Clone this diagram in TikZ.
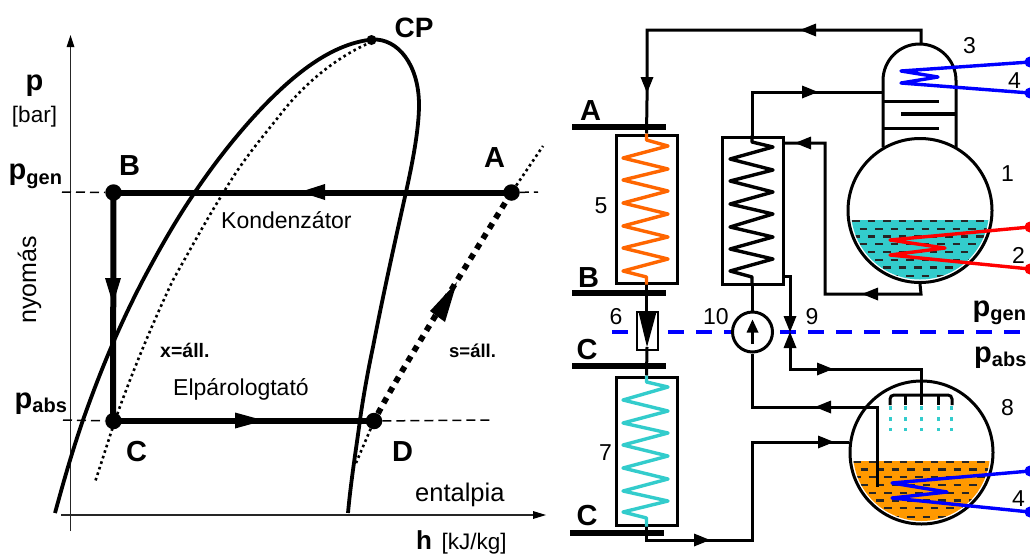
\documentclass[tikz,border=0pt]{standalone}
\usepackage{fontspec}
\setmainfont{Liberation Sans}
\usetikzlibrary{calc}
\definecolor{teal1}{HTML}{33CCCC}
\definecolor{orange1}{HTML}{FF6600}
\definecolor{orange2}{HTML}{FF9900}
\newcommand\fs[1]{\fontsize{#1}{#1}\selectfont}
\newcommand\arrR[2]{\fill (#1,#2) -- ++(-16,-6.5) -- ++(0,13) -- cycle;}
\newcommand\arrL[2]{\fill (#1,#2) -- ++(16,-6.5) -- ++(0,13) -- cycle;}
\newcommand\arrD[2]{\fill (#1,#2) -- ++(-6.5,-16) -- ++(13,0) -- cycle;}
\newcommand\liquiddashes[3]{%
  \foreach \r/\yy in {0/0,1/7.7,2/15.4,3/23,4/31,5/38.7,6/46.5,7/55}{%
    \pgfmathsetmacro\off{mod(\r,2)*7.7}%
    \foreach \k in {0,...,10}{%
      \draw[dashmark] ({#1+\off+\k*15.5},{#2+\yy}) -- ++(7.5,0);}}}
\tikzset{
  axisline/.style={line width=1.5pt,draw=black!85},
  cycleline/.style={line width=6pt},
  thindash/.style={line width=1.5pt,dash pattern=on 9pt off 5pt},
  curve/.style={line width=3.8pt},
  dotcurve/.style={line width=2.6pt,dash pattern=on 2.6pt off 3.2pt},
  thickdot/.style={line width=5.8pt,dash pattern=on 6pt off 6pt},
  statept/.style={circle,fill=black,inner sep=0pt,minimum size=16.5pt},
  bold/.style={font=\fs{29}\bfseries,inner sep=0pt,anchor=base west},
  plain/.style={font=\fs{23},inner sep=0pt,anchor=base west},
  pipe/.style={line width=3pt,line join=miter},
  busbar/.style={line width=6pt},
  hxbox/.style={draw,line width=3pt,inner sep=0pt,minimum width=61pt},
  coil/.style={line width=3.4pt,line join=round},
  vessel/.style={circle,draw,line width=3pt,inner sep=0pt},
  dashmark/.style={line width=2.3pt,draw=black!85},
  dot/.style={circle,inner sep=0pt,minimum size=11pt},
  spray/.style={line width=3pt,teal1,dash pattern=on 4pt off 7pt},
}
\begin{document}
\begin{tikzpicture}[x=1pt,y=-1pt]
\useasboundingbox (0,0) rectangle (1030,555);
\fill[white] (0,0) rectangle (1030,555);

% ---------- left: p-h diagram ----------
\coordinate (yb) at (70.5,531); \coordinate (yt) at (70.5,40);
\coordinate (xl) at (61,515); \coordinate (xr) at (540,515);
\draw[axisline] (yb) -- (yt);
\draw[axisline] (xl) -- (xr);
\fill (70.5,35) -- ++(-4,12) -- ++(8,0) -- cycle;
\fill (546,515) -- ++(-13,-4) -- ++(0,8) -- cycle;

\node[statept] (B) at (113.5,192.5) {};
\node[statept] (A) at (511.5,192.5) {};
\node[statept] (C) at (113.5,421) {};
\node[statept] (D) at (374,421) {};
\node[circle,fill=black,inner sep=0pt,minimum size=10pt] (CP) at (371.5,40) {};

\coordinate (Bl) at (62,192); \coordinate (Ar) at (538,192);
\coordinate (Cl) at (63,420); \coordinate (Dr) at (490,420);
\draw[thindash] (Bl) -- (B);
\draw[thindash] (Cl) -- (C);
\draw[thindash] (A) -- (Ar);
\draw[thindash] (D) -- (Dr);

\draw[curve] (55,513) .. controls (64,480) and (72,452) .. (83,420)
  .. controls (100,372) and (118,328) .. (143,280)
  .. controls (160,248) and (176,220) .. (195,192)
  .. controls (220,155) and (250,118) .. (280,90)
  .. controls (310,62) and (340,43) .. (372,39.5)
  .. controls (398,38) and (419,65) .. (419,105)
  .. controls (419,130) and (412,165) .. (406,192)
  .. controls (396,237) and (383,295) .. (373,347)
  .. controls (367,375) and (362,405) .. (360,420)
  .. controls (356,450) and (351,480) .. (348,513);
\draw[dotcurve] (371.5,42) .. controls (340,55) and (305,82) .. (280,115)
  .. controls (260,140) and (243,160) .. (225,190)
  .. controls (205,222) and (190,250) .. (173,280)
  .. controls (155,318) and (135,365) .. (118,412)
  .. controls (110,435) and (103,458) .. (95,482);
\coordinate (Aend) at (543,146); \coordinate (Dend) at (356,463);
\draw[dotcurve] (A) -- (Aend);
\draw[dotcurve] (D) -- (Dend);

\draw[cycleline] (A.center) -- (B.center);
\draw[cycleline] (B.center) -- (113,420);
\draw[cycleline] (C.center) -- (D.center);
\draw[thickdot] (D) .. controls (400,372) and (450,292) .. (A);
\fill (300,192) -- ++(25,-8) -- ++(0,16) -- cycle;
\fill (113,304) -- ++(-8,-26) -- ++(16,0) -- cycle;
\fill (264,420.5) -- ++(-29,-8) -- ++(0,16) -- cycle;
\fill (457,282) -- (430,311) -- (445,322) -- cycle;

\node[bold,font=\fs{28}\bfseries] (lCP) at (394.5,37) {CP};
\node[bold] (lA) at (484,167) {A};
\node[bold] (lB) at (119,175) {B};
\node[bold] (lC) at (126,461) {C};
\node[bold] (lD) at (392,461) {D};
\node[bold] (lp) at (25.5,90) {p};
\node[font=\fs{22.5},inner sep=0pt,anchor=base] (lbar) at (34.5,122) {[bar]};
\node[bold] (lpgen) at (8.5,179.5) {p\raisebox{-4.5pt}{\fs{20}gen}};
\node[bold] (lpabs) at (14.5,408) {p\raisebox{-4pt}{\fs{20}abs}};
\node[font=\fs{25},inner sep=0pt,rotate=90,anchor=base] (lny) at (36,280) {nyomás};
\node[plain] (lk) at (221,228) {Kondenzátor};
\node[plain] (le) at (173,395) {Elpárologtató};
\node[font=\fs{19.5}\bfseries,inner sep=0pt,anchor=base west] (lx) at (160,357) {x=áll.};
\node[font=\fs{18.5}\bfseries,inner sep=0pt,anchor=base west] (ls) at (449,357) {s=áll.};
\node[font=\fs{25.5},inner sep=0pt,anchor=base west] (lent) at (415,501) {entalpia};
\node[inner sep=0pt,anchor=base west,font=\fs{26}\bfseries] (lh) at (416,549.5) {h};
\node[inner sep=0pt,anchor=base west,font=\fs{22.5}] (lkj) at (441.5,549.5) {[kJ/kg]};

% ---------- right: scheme ----------
\coordinate (d1) at (612,332); \coordinate (d2) at (1020,332);
\draw[blue,line width=4pt,dash pattern=on 16pt off 12pt] (d1) -- (d2);

% liquids
\begin{scope}
\clip (920,210.5) circle[radius=69];
\fill[teal1] (840,219.5) rectangle (1000,290);
\clip (840,219.5) rectangle (1000,290);
\liquiddashes{852}{221}{}
\end{scope}
\begin{scope}
\clip (921.5,452.5) circle[radius=68.5];
\fill[orange2] (840,461) rectangle (1000,530);
\clip (840,461) rectangle (1000,530);
\liquiddashes{853}{461.7}{}
\end{scope}

% units
\node[hxbox,minimum height=148pt] (hxA) at (646.5,209) {};
\node[hxbox,minimum height=148pt] (hxC) at (646.5,451) {};
\node[hxbox,minimum height=147pt] (hxM) at (752.5,210.5) {};
\node[vessel,minimum size=144pt] (gen) at (920,210.5) {};
\node[vessel,minimum size=143pt] (abs) at (921.5,452.5) {};

% bus bars
\coordinate (Al) at (572,127); \coordinate (Ar2) at (666,127);
\coordinate (Bl2) at (572,293); \coordinate (Br) at (666,293);
\coordinate (Cl2) at (572,366); \coordinate (Cr) at (666,366);
\coordinate (Dl2) at (570,533); \coordinate (Dr2) at (664,533);

% tower
\coordinate (tl) at (883,147); \coordinate (tr) at (956,147);
\coordinate (ttop) at (919.5,44);
\draw[pipe] (tl) -- (883,80.5) .. controls (883,60.3) and (899.3,44) .. (ttop) .. controls (939.7,44) and (956,60.3) .. (956,80.5) -- (tr);
\draw[pipe] (883,101) -- (939,101);
\draw[line width=3.4pt] (901,114) -- (956,114);
\draw[pipe] (883,128) -- (939,128);

% pipes
\draw[pipe] (921,44) -- (921,30) -- (647,30) -- (647,100) -- (hxA.north);
\arrL{800}{30}
\arrD{647}{93}
\draw[pipe] (hxA.south) -- (646.5,312);
\node[draw,fill=white,line width=2.4pt,inner sep=0pt,minimum width=21pt,minimum height=38pt] (v6) at (647.5,331) {};
\fill (638.5,312) -- (656.5,312) -- (647,347) -- cycle;
\draw[pipe] (646.5,312) -- (646.5,318);
\draw[pipe] (647,347) -- (hxC.north);
\draw[pipe] (hxC.south) -- (646.5,540) -- (752,540) -- (752,442) -- (abs.west |- 0,442);
\arrR{710}{540}
\arrR{834}{442}

\draw[pipe] (752,137) -- (752,92) -- (883,92);
\arrR{818}{92}
\node[vessel,fill=white,minimum size=40pt] (pump) at (752.5,332) {};
\draw[pipe] (hxM.south) -- (pump.north);
\draw[pipe] (pump.south) -- (752.5,407) -- (877,407) -- (877,487);
\arrL{815}{407}
\draw[pipe] (752.5,344) -- (752.5,330);
\fill (752.5,319.5) -- ++(-6,13) -- ++(12,0) -- cycle;

\draw[pipe] (gen.south) -- (921,294) -- (825,294) -- (825,143) -- (783,143);
\arrL{862}{294}
\arrL{795}{143}

\draw[pipe] (783,276) -- (790,276) -- (790,316);
\fill (790,332) -- ++(-6.5,-16) -- ++(13,0) -- cycle;
\fill (790,332) -- ++(-6.5,16) -- ++(13,0) -- cycle;
\draw[pipe] (790,348) -- (790,369) -- (921,369) -- (921,405);
\arrR{833}{369}

% spray
\draw[pipe,rounded corners=4pt] (890,405) -- (890,395) -- (952,395) -- (952,405);
\draw[pipe] (905,395) -- (905,405);
\draw[pipe] (938,395) -- (938,405);
\foreach \sx in {890,905,921,938,951}{\draw[spray] (\sx,406) -- (\sx,431);}

% bus bars on top
\draw[busbar] (Al) -- (Ar2);
\draw[busbar] (Bl2) -- (Br);
\draw[busbar] (Cl2) -- (Cr);
\draw[busbar] (Dl2) -- (Dr2);

% coils
\draw[coil,orange1] (hxA.north) -- (646.5,140) -- (668,146) -- (623,158) -- (668,169) -- (623,180) -- (668,191) -- (623,203) -- (668,214) -- (623,226) -- (668,237) -- (623,248) -- (668,259) -- (623,271) -- (646.5,277) -- (hxA.south);
\draw[coil,teal1] (hxC.north) -- (646.5,382) -- (668,387) -- (623,400) -- (668,411) -- (623,423) -- (668,433) -- (623,445) -- (668,456) -- (623,468) -- (668,479) -- (623,491) -- (668,501) -- (623,512) -- (646.5,518) -- (hxC.south);
\draw[coil] (hxM.north -| 752,0) -- (752,142) -- (773,147) -- (730,159) -- (773,170) -- (730,181) -- (773,192) -- (730,204) -- (773,214) -- (730,227) -- (773,237) -- (730,249) -- (773,259) -- (730,271) -- (752,277) -- (752,284);

\node[dot,fill=blue] (b1) at (1030,62) {};
\node[dot,fill=blue] (b2) at (1030,93) {};
\node[dot,fill=red] (r1) at (1030,227) {};
\node[dot,fill=red] (r2) at (1030,269) {};
\node[dot,fill=blue] (b3) at (1030,471) {};
\node[dot,fill=blue] (b4) at (1030,512) {};
\draw[coil,blue] (b1.center) -- (901,71) -- (938,77) -- (901,83) -- (b2.center);
\draw[coil,red] (r1.center) -- (890,240) -- (945,248) -- (890,255) -- (r2.center);
\draw[coil,blue] (b3.center) -- (892,483) -- (947,492) -- (892,498) -- (b4.center);

% labels
\node[plain] (n3) at (963,53) {3};
\node[plain] (n4) at (1008,88) {4};
\node[plain] (n1) at (1001,181) {1};
\node[plain] (n2) at (1012,263) {2};
\node[plain] (n8) at (1001,415) {8};
\node[plain] (n4b) at (1012,506) {4};
\node[plain] (n5) at (594.5,213) {5};
\node[plain] (n7) at (599,460) {7};
\node[plain] (n6) at (609.5,324) {6};
\node[plain] (n10) at (703,324) {10};
\node[plain] (n9) at (805.5,324) {9};
\node[bold] (rA) at (580,120) {A};
\node[bold] (rB) at (578,287) {B};
\node[bold] (rC) at (576.5,359) {C};
\node[bold] (rC2) at (576.5,525) {C};
\node[bold] (rpg) at (972.5,316) {p\raisebox{-4.5pt}{\fs{20}gen}};
\node[bold] (rpa) at (974,362) {p\raisebox{-4pt}{\fs{20}abs}};
\end{tikzpicture}
\end{document}
